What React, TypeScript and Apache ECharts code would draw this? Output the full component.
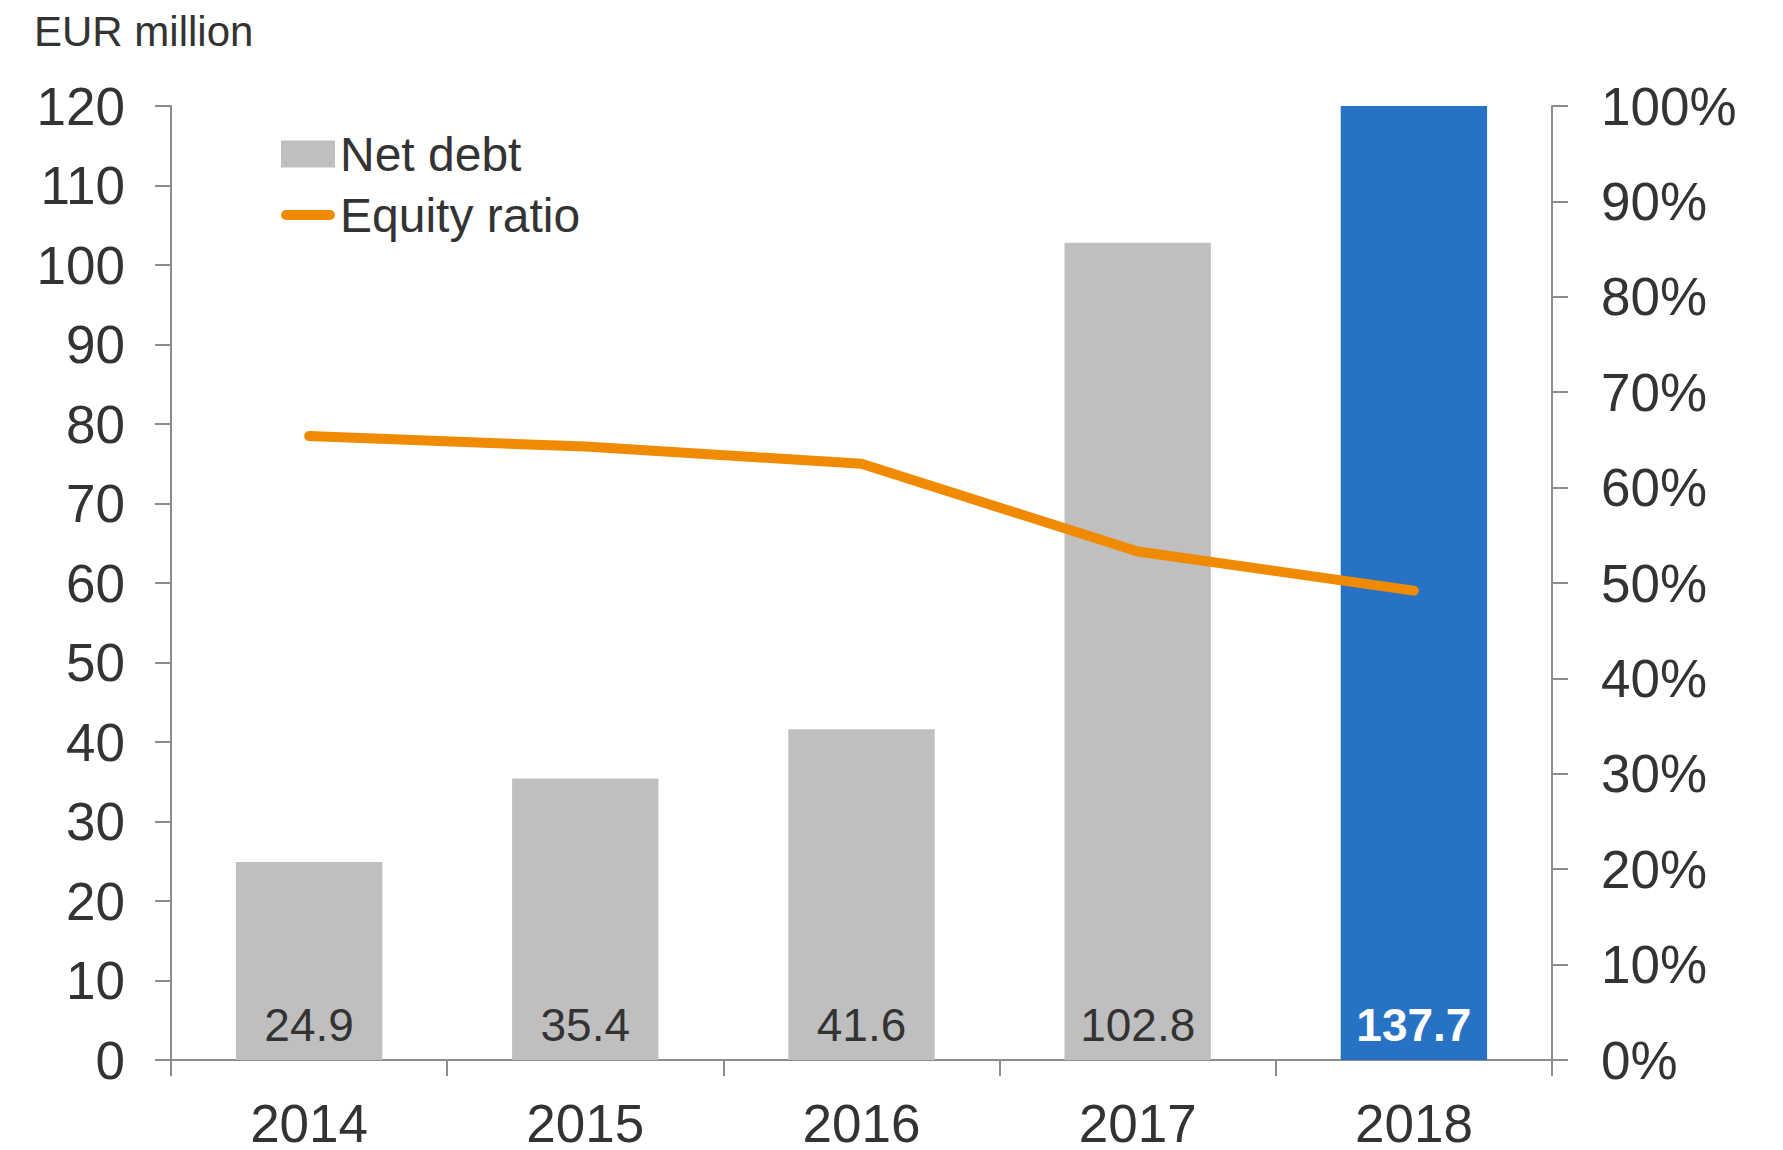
import React, { useEffect, useRef } from "react";
import * as echarts from "echarts";

const categories = ["2014", "2015", "2016", "2017", "2018"];
const netDebt = [24.9, 35.4, 41.6, 102.8, 137.7];
const equityRatio = [0.654, 0.643, 0.625, 0.533, 0.492];
const leftTicks = { min: 0, max: 120, interval: 10 };
const rightTicks = { min: 0, max: 1, interval: 0.1 };

const FONT = "'Liberation Sans', Arial, sans-serif";
const TEXT = "#333333";
const AXIS = "#8c8c8c";
const GRAY = "#bfbfbf";
const BLUE = "#2872c6";
const ORANGE = "#f08a00";

export default function App() {
  const ref = useRef<HTMLDivElement>(null);
  useEffect(() => {
    if (!ref.current) return;
    const chart = echarts.init(ref.current, undefined, { renderer: "svg" });
    const barData = netDebt.map((v, i) => {
      const last = i === netDebt.length - 1;
      return {
        value: v,
        itemStyle: { color: last ? BLUE : GRAY },
        label: last
          ? { color: "#ffffff", fontWeight: "bold" as const }
          : { color: TEXT, fontWeight: "normal" as const },
      };
    });
    chart.setOption({
      animation: false,
      textStyle: { fontFamily: FONT, color: TEXT },
      grid: { left: 171, right: 231, top: 106, bottom: 89, containLabel: false },
      graphic: [
        {
          type: "text",
          left: 34,
          top: 10,
          style: { text: "EUR million", fontSize: 42, fontFamily: FONT, fill: TEXT },
        },
      ],
      legend: {
        orient: "vertical",
        left: 276,
        top: 125,
        itemWidth: 54,
        itemHeight: 27,
        itemGap: 13,
        itemTextGap: 5,
        symbolKeepAspect: true,
        textStyle: { fontSize: 48, fontFamily: FONT, color: TEXT },
        data: [
          { name: "Net debt", icon: "rect", itemStyle: { color: GRAY } },
          {
            name: "Equity ratio",
            icon: "path://M5,0H49A5,5 0 0 1 49,10H5A5,5 0 0 1 5,0Z",
            itemStyle: { color: ORANGE },
          },
        ],
      },
      xAxis: {
        type: "category",
        data: categories,
        boundaryGap: true,
        axisLine: { show: true, lineStyle: { color: AXIS, width: 2 } },
        axisTick: { show: true, length: 16, lineStyle: { color: AXIS, width: 2 } },
        axisLabel: { fontSize: 53, lineHeight: 41, color: TEXT, margin: 43, fontFamily: FONT },
        splitLine: { show: false },
      },
      yAxis: [
        {
          type: "value",
          min: leftTicks.min,
          max: leftTicks.max,
          interval: leftTicks.interval,
          axisLine: { show: true, lineStyle: { color: AXIS, width: 2 } },
          axisTick: { show: true, length: 16, lineStyle: { color: AXIS, width: 2 } },
          axisLabel: { fontSize: 53, color: TEXT, margin: 46, fontFamily: FONT },
          splitLine: { show: false },
        },
        {
          type: "value",
          position: "right",
          min: rightTicks.min,
          max: rightTicks.max,
          interval: rightTicks.interval,
          axisLine: { show: true, lineStyle: { color: AXIS, width: 2 } },
          axisTick: { show: true, length: 16, lineStyle: { color: AXIS, width: 2 } },
          axisLabel: {
            fontSize: 53,
            color: TEXT,
            margin: 49,
            fontFamily: FONT,
            formatter: (v: number) => `${Math.round(v * 100)}%`,
          },
          splitLine: { show: false },
        },
      ],
      series: [
        {
          name: "Net debt",
          type: "bar",
          data: barData,
          barWidth: "53%",
          clip: true,
          itemStyle: { color: GRAY },
          label: {
            show: true,
            position: "insideBottom",
            distance: 12,
            fontSize: 46,
            fontFamily: FONT,
            formatter: (p: any) => Number(p.value).toFixed(1),
          },
          z: 2,
        },
        {
          name: "Equity ratio",
          type: "line",
          yAxisIndex: 1,
          data: equityRatio,
          symbol: "none",
          lineStyle: { color: ORANGE, width: 10, cap: "round", join: "round" },
          itemStyle: { color: ORANGE },
          z: 3,
        },
      ],
    });
    return () => chart.dispose();
  }, []);
  return (
    <div
      ref={ref}
      style={{ position: "fixed", left: 0, top: 0, width: 1783, height: 1150, background: "#fff" }}
    />
  );
}
